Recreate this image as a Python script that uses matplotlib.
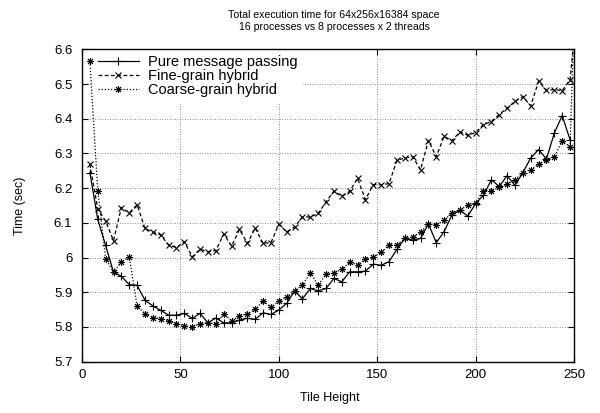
import matplotlib
matplotlib.use("Agg")
import matplotlib.pyplot as plt

plt.rcParams['font.family'] = ['Liberation Sans', 'DejaVu Sans']

# tile heights (4, 8, ..., 248) and one more point past the right edge
tile = list(range(4, 252, 4))
tile_ext = tile + [252]

pure_mp = [6.245, 6.11, 6.035, 5.958, 5.946, 5.922, 5.920, 5.877, 5.861, 5.848,
           5.834, 5.834, 5.839, 5.825, 5.839, 5.812, 5.826, 5.812, 5.812, 5.820,
           5.825, 5.822, 5.841, 5.836, 5.849, 5.868, 5.904, 5.881, 5.911, 5.904,
           5.911, 5.940, 5.930, 5.959, 5.959, 5.961, 5.981, 5.978, 5.988, 6.024,
           6.055, 6.050, 6.055, 6.097, 6.043, 6.075, 6.123, 6.136, 6.120, 6.155,
           6.180, 6.224, 6.205, 6.236, 6.208, 6.245, 6.287, 6.311, 6.284, 6.359,
           6.409, 6.339]

fine_grain = [6.269, 6.14, 6.105, 6.049, 6.144, 6.129, 6.152, 6.084, 6.073, 6.065,
              6.036, 6.029, 6.046, 6.002, 6.024, 6.017, 6.020, 6.068, 6.033, 6.081,
              6.041, 6.085, 6.041, 6.043, 6.096, 6.074, 6.088, 6.117, 6.117, 6.127,
              6.161, 6.191, 6.177, 6.191, 6.228, 6.167, 6.210, 6.210, 6.213, 6.280,
              6.287, 6.291, 6.253, 6.337, 6.291, 6.349, 6.337, 6.362, 6.352, 6.360,
              6.383, 6.392, 6.412, 6.431, 6.450, 6.464, 6.437, 6.508, 6.482, 6.484,
              6.481, 6.512, 6.75]

coarse_grain = [6.565, 6.193, 5.996, 5.958, 5.987, 6.002, 5.860, 5.838, 5.827, 5.824,
                5.818, 5.810, 5.803, 5.800, 5.810, 5.812, 5.810, 5.837, 5.818, 5.833,
                5.837, 5.851, 5.875, 5.857, 5.875, 5.887, 5.904, 5.921, 5.956, 5.921,
                5.952, 5.956, 5.967, 5.986, 5.980, 5.995, 6.001, 6.015, 6.036, 6.036,
                6.055, 6.058, 6.074, 6.096, 6.095, 6.108, 6.128, 6.136, 6.152, 6.157,
                6.193, 6.193, 6.202, 6.212, 6.224, 6.245, 6.253, 6.269, 6.282, 6.291,
                6.335, 6.320, 7.05]

yticks = [5.7, 5.8, 5.9, 6.0, 6.1, 6.2, 6.3, 6.4, 6.5, 6.6]
ytick_labels = ['5.7', '5.8', '5.9', '6', '6.1', '6.2', '6.3', '6.4', '6.5', '6.6']
xticks = [0, 50, 100, 150, 200, 250]

fig = plt.figure(figsize=(6, 4.13), dpi=100)
ax = fig.add_axes([0.1367, 0.1242, 0.82, 0.7564])

ax.plot(tile, pure_mp, color='black', lw=0.9, marker='+', ms=6, mew=0.8,
        label='Pure message passing')
ax.plot(tile_ext, fine_grain, color='black', lw=0.9, dashes=(3, 2), marker='x',
        ms=4.5, mew=0.8, label='Fine-grain hybrid')
ax.plot(tile_ext, coarse_grain, color='black', lw=0.9, dashes=(1, 1.5),
        marker=(8, 2, 0), ms=5, mew=0.7, label='Coarse-grain hybrid')

ax.set_xlim(0, 250)
ax.set_ylim(5.7, 6.6)
ax.set_xticks(xticks)
ax.set_yticks(yticks)
ax.set_yticklabels(ytick_labels)
ax.tick_params(direction='in', top=True, right=True, length=4, width=0.8,
               labelsize=9.5)
ax.tick_params(axis='y', pad=7)
ax.tick_params(axis='x', pad=5)
ax.set_axisbelow(True)
ax.grid(True, color='0.4', lw=0.6, linestyle=(0, (1, 2)))
for s in ax.spines.values():
    s.set_linewidth(1.0)

ax.set_xlabel('Tile Height', fontsize=9, va='center')
ax.set_ylabel('Time (sec)', fontsize=9, va='center')
ax.xaxis.set_label_coords(0.504, -0.116)
ax.yaxis.set_label_coords(-0.126, 0.5)

fig.text(0.557, 0.949, 'Total execution time for 64x256x16384 space\n'
         '16 processes vs 8 processes x 2 threads',
         ha='center', va='center', fontsize=7.6, linespacing=1.3)

leg = ax.legend(loc='upper left', bbox_to_anchor=(0.02, 1.0), borderaxespad=0,
                fontsize=10.5, frameon=True, fancybox=False, edgecolor='none',
                facecolor='white', framealpha=1, handlelength=2.8,
                handletextpad=0.65, labelspacing=0.0, borderpad=0.4)
leg.set_zorder(1.5)

fig.savefig('out.png', dpi=100)
